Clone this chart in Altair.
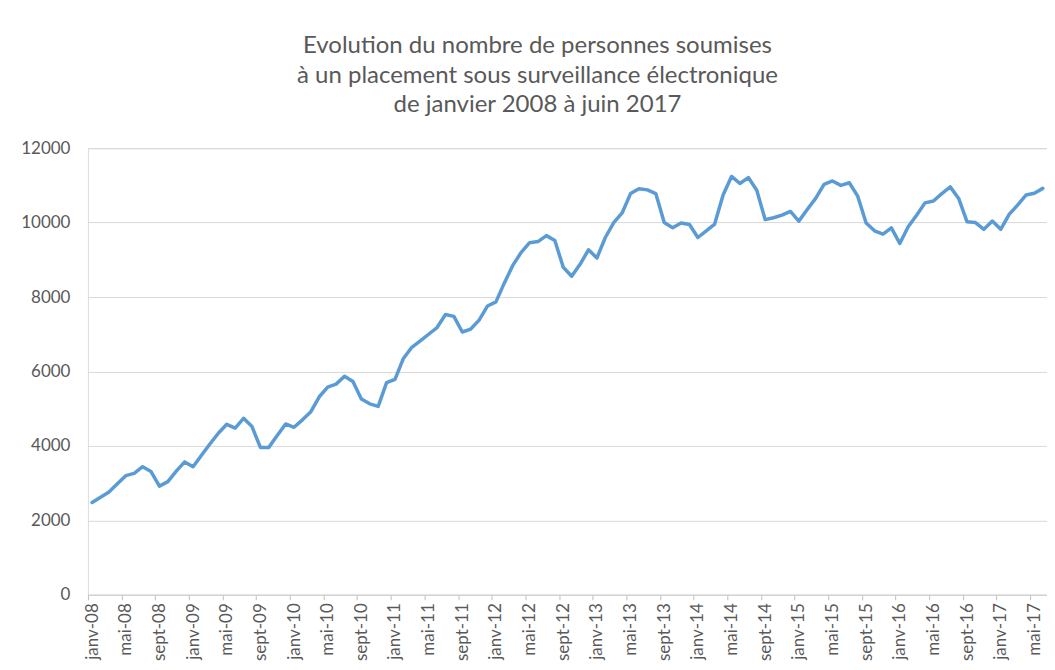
import altair as alt
import pandas as pd

# Monthly series, janv-2008 .. juin-2017 (114 months)
month_names = ["janv", "févr", "mars", "avr", "mai", "juin",
               "juil", "août", "sept", "oct", "nov", "déc"]
years = list(range(2008, 2018))

values = [
    # 2008
    2480, 2620, 2760, 2980, 3200, 3260, 3440, 3310, 2920, 3040, 3320, 3570,
    # 2009
    3440, 3750, 4050, 4340, 4580, 4480, 4740, 4520, 3960, 3960, 4280, 4590,
    # 2010
    4500, 4700, 4920, 5320, 5580, 5660, 5870, 5730, 5260, 5130, 5060, 5700,
    # 2011
    5790, 6350, 6650, 6820, 7000, 7180, 7530, 7480, 7060, 7140, 7380, 7760,
    # 2012
    7870, 8380, 8850, 9200, 9460, 9490, 9650, 9520, 8800, 8560, 8880, 9270,
    # 2013
    9050, 9600, 10000, 10260, 10780, 10910, 10880, 10780, 10000, 9860, 9990, 9950,
    # 2014
    9600, 9780, 9960, 10740, 11240, 11050, 11210, 10870, 10080, 10130, 10200, 10300,
    # 2015
    10040, 10350, 10650, 11030, 11120, 11000, 11070, 10710, 9990, 9780, 9690, 9860,
    # 2016
    9440, 9890, 10200, 10530, 10580, 10780, 10960, 10650, 10020, 10000, 9820, 10040,
    # 2017 (janv..juin)
    9820, 10220, 10470, 10740, 10790, 10920,
]

labels = [f"{m}-{str(y)[2:]}" for y in years for m in month_names][:len(values)]
tick_labels = labels[::4]
y_ticks = [0, 2000, 4000, 6000, 8000, 10000, 12000]
title_lines = [
    "Evolution du nombre de personnes soumises",
    "à un placement sous surveillance électronique",
    "de janvier 2008 à juin 2017",
]

df = pd.DataFrame({"mois": labels, "n": values})

TXT = "#595959"
FONT = "Lato"
W, H = 960, 447
step = W / len(values)

chart = (
    alt.Chart(df)
    .mark_line(color="#5B9BD5", strokeWidth=3.5, strokeJoin="round", strokeCap="round")
    .encode(
        x=alt.X(
            "mois:O",
            sort=None,
            scale=alt.Scale(type="point", padding=0.5),
            axis=alt.Axis(
                values=tick_labels,
                title=None,
                labelAngle=270,
                labelAlign="right",
                labelBaseline="middle",
                labelFontSize=17,
                labelColor=TXT,
                labelFont=FONT,
                labelPadding=3,
                tickSize=5,
                tickColor="#bfbfbf",
                domainColor="#d0d0d0",
                tickOffset=-step / 2,
                labelOffset=step / 2,
                grid=False,
            ),
        ),
        y=alt.Y(
            "n:Q",
            scale=alt.Scale(domain=[0, 12000], nice=False),
            axis=alt.Axis(
                values=y_ticks,
                format="d",
                title=None,
                domain=False,
                ticks=False,
                labelFontSize=17,
                labelColor=TXT,
                labelFont=FONT,
                labelPadding=18,
                gridColor="#d9d9d9",
                gridWidth=1,
            ),
        ),
    )
    .properties(
        width=W,
        height=H,
        autosize=alt.AutoSizeParams(type="none"),
        padding={"left": 80, "top": 140, "right": 0, "bottom": 67},
        title=alt.TitleParams(
            text=title_lines,
            fontSize=24,
            font=FONT,
            fontWeight="normal",
            color=TXT,
            anchor="middle",
            frame="group",
            dx=-30,
            offset=22,
            lineHeight=29.5,
        ),
    )
    .configure_view(stroke=None)
    .configure(background="white")
)

chart.save("out.html", embed_options={"renderer": "svg", "actions": False})
